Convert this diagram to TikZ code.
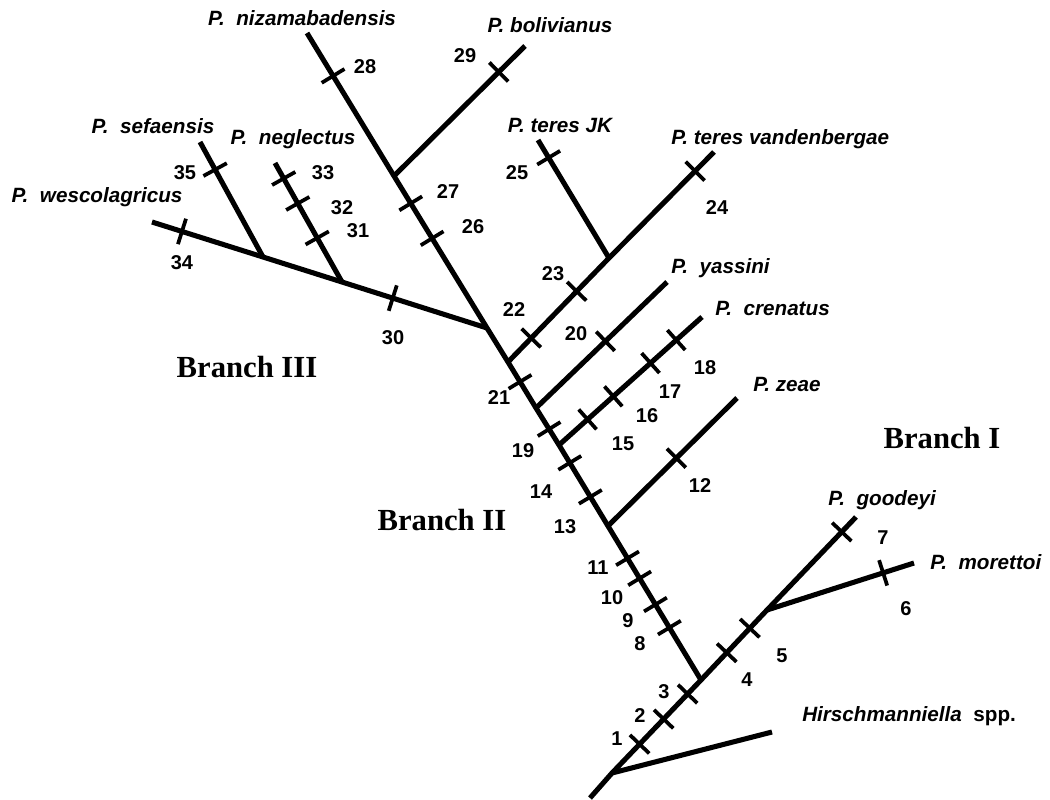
\documentclass[tikz,border=0pt]{standalone}
\usepackage{fontspec}
\setmainfont{Liberation Serif}
\setsansfont{Liberation Sans}

\begin{document}
\begin{tikzpicture}[x=0.75pt, y=-0.75pt,
		branch/.style={line width=3.8pt},
		bar/.style={sloped, fill=black, inner sep=0pt, minimum width=2.8pt, minimum height=20pt},
		num/.style={font=\sffamily\bfseries\fontsize{15}{15}\selectfont, inner sep=0pt, text height=10.7pt, text depth=0pt},
		taxon/.style={font=\sffamily\bfseries\itshape\fontsize{15.5}{16}\selectfont, inner sep=0pt, text height=11pt, text depth=0pt},
		group/.style={font=\rmfamily\bfseries\fontsize{23}{24}\selectfont, inner sep=0pt, text height=15.5pt, text depth=0pt}]
		\useasboundingbox (0, 0) rectangle (1050, 800);

		% junctions and tips
		\coordinate (base) at (590, 798);
		\coordinate (root) at (612, 773);
		\coordinate (hirsch) at (772, 732);
		\coordinate (b2) at (701, 680);
		\coordinate (mor) at (767, 610);
		\coordinate (goodeyi) at (856, 517);
		\coordinate (morettoi) at (914, 563);
		\coordinate (zea) at (608, 526);
		\coordinate (zeae) at (737, 398);
		\coordinate (cre) at (559, 445);
		\coordinate (crenatus) at (702, 317);
		\coordinate (yas) at (536, 408);
		\coordinate (yassini) at (667, 282);
		\coordinate (ter) at (508, 362);
		\coordinate (jk) at (609, 258);
		\coordinate (teresjk) at (538, 140);
		\coordinate (vandenb) at (714, 152);
		\coordinate (b3) at (487, 328);
		\coordinate (bol) at (394, 176);
		\coordinate (bolivianus) at (525, 46);
		\coordinate (nizam) at (307, 33);
		\coordinate (neg) at (342, 282);
		\coordinate (neglectus) at (275, 163);
		\coordinate (sef) at (263, 257);
		\coordinate (sefaensis) at (200, 142);
		\coordinate (wesco) at (152, 222);

		% Branch I
		\draw[branch] (base) -- (root)
		-- (b2) node[bar, pos=.31] (k1) {} node[bar, pos=.58] (k2) {} node[bar, pos=.85] (k3) {}
		-- (mor) node[bar, pos=.39] (k4) {} node[bar, pos=.74] (k5) {}
		-- (goodeyi) node[bar, pos=.84] (k7) {};
		\draw[branch] (root) -- (hirsch);
		\draw[branch] (mor) -- (morettoi) node[bar, pos=.79] (k6) {};

		% Branch II
		\draw[branch] (b2)
		-- (zea) node[bar, pos=.34] (k8) {} node[bar, pos=.49] (k9) {} node[bar, pos=.66] (k10) {} node[bar, pos=.79] (k11) {}
		-- (cre) node[bar, pos=.36] (k13) {} node[bar, pos=.78] (k14) {}
		-- (yas) node[bar, pos=.43] (k19) {}
		-- (ter) node[bar, pos=.57] (k21) {}
		-- (b3)
		-- (bol) node[bar, pos=.59] (k26) {} node[bar, pos=.82] (k27) {}
		-- (nizam) node[bar, pos=.70] (k28) {};
		\draw[branch] (zea) -- (zeae) node[bar, pos=.53] (k12) {};
		\draw[branch] (cre) -- (crenatus) node[bar, pos=.2] (k15) {} node[bar, pos=.38] (k16) {}
		node[bar, pos=.64] (k17) {} node[bar, pos=.82] (k18) {};
		\draw[branch] (yas) -- (yassini) node[bar, pos=.53] (k20) {};
		\draw[branch] (ter) -- (jk) node[bar, pos=.23] (k22) {} node[bar, pos=.68] (k23) {}
		-- (vandenb) node[bar, pos=.82] (k24) {};
		\draw[branch] (jk) -- (teresjk) node[bar, pos=.85] (k25) {};
		\draw[branch] (bol) -- (bolivianus) node[bar, pos=.8] (k29) {};

		% Branch III
		\draw[branch] (b3) -- (neg) node[bar, pos=.65] (k30) {}
		-- (sef) -- (wesco) node[bar, pos=.73] (k34) {};
		\draw[branch] (neg) -- (neglectus) node[bar, pos=.37] (k31) {} node[bar, pos=.66] (k32) {}
		node[bar, pos=.87] (k33) {};
		\draw[branch] (sef) -- (sefaensis) node[bar, pos=.76] (k35) {};

		% character numbers
		\node[num] (n1) at (617, 738) {1};
		\node[num] (n2) at (640, 715) {2};
		\node[num] (n3) at (664, 691) {3};
		\node[num] (n4) at (747, 679) {4};
		\node[num] (n5) at (782, 655) {5};
		\node[num] (n6) at (906, 608) {6};
		\node[num] (n7) at (883, 537) {7};
		\node[num] (n8) at (640, 643) {8};
		\node[num] (n9) at (628, 620) {9};
		\node[num] (n10) at (612, 597) {10};
		\node[num] (n11) at (598, 567) {11};
		\node[num] (n12) at (700, 485) {12};
		\node[num] (n13) at (565, 526) {13};
		\node[num] (n14) at (541, 491) {14};
		\node[num] (n15) at (623, 443) {15};
		\node[num] (n16) at (647, 415) {16};
		\node[num] (n17) at (670, 391) {17};
		\node[num] (n18) at (705, 367) {18};
		\node[num] (n19) at (523, 450) {19};
		\node[num] (n20) at (576, 333) {20};
		\node[num] (n21) at (499, 397) {21};
		\node[num] (n22) at (514, 309) {22};
		\node[num] (n23) at (553, 273) {23};
		\node[num] (n24) at (717, 207) {24};
		\node[num] (n25) at (517, 172) {25};
		\node[num] (n26) at (473, 226) {26};
		\node[num] (n27) at (448, 191) {27};
		\node[num] (n28) at (365, 66) {28};
		\node[num] (n29) at (465, 55) {29};
		\node[num] (n30) at (393, 337) {30};
		\node[num] (n31) at (358, 230) {31};
		\node[num] (n32) at (342, 207) {32};
		\node[num] (n33) at (323, 172) {33};
		\node[num] (n34) at (182, 262) {34};
		\node[num] (n35) at (185, 172) {35};

		% taxa
		\node[taxon] (tnizam) at (302, 18) {P.\ \ nizamabadensis};
		\node[taxon] (tboli) at (550, 25) {P. bolivianus};
		\node[taxon] (tjk) at (560, 125) {P. teres JK};
		\node[taxon, anchor=west] (tvand) at (671, 137) {P. teres vandenbergae};
		\node[taxon] (tsef) at (153, 126) {P.\ \ sefaensis};
		\node[taxon] (tneg) at (293, 137) {P.\ \ neglectus};
		\node[taxon] (twes) at (97, 195) {P.\ \ wescolagricus};
		\node[taxon, anchor=west] (tyas) at (671, 266) {P.\ \ yassini};
		\node[taxon, anchor=west] (tcre) at (715, 308) {P.\ \ crenatus};
		\node[taxon, anchor=west] (tzea) at (753, 384) {P. zeae};
		\node[taxon, anchor=west] (tgoo) at (828, 498) {P.\ \ goodeyi};
		\node[taxon, anchor=west] (tmor) at (930, 562) {P.\ \ morettoi};
		\node[taxon, anchor=west] (thir) at (802, 714) {Hirschmanniella\ \ \upshape spp.};

		% branches
		\node[group] (g3) at (247, 367) {Branch III};
		\node[group] (g2) at (442, 520) {Branch II};
		\node[group] (g1) at (942, 438) {Branch I};
	\end{tikzpicture}
\end{document}
